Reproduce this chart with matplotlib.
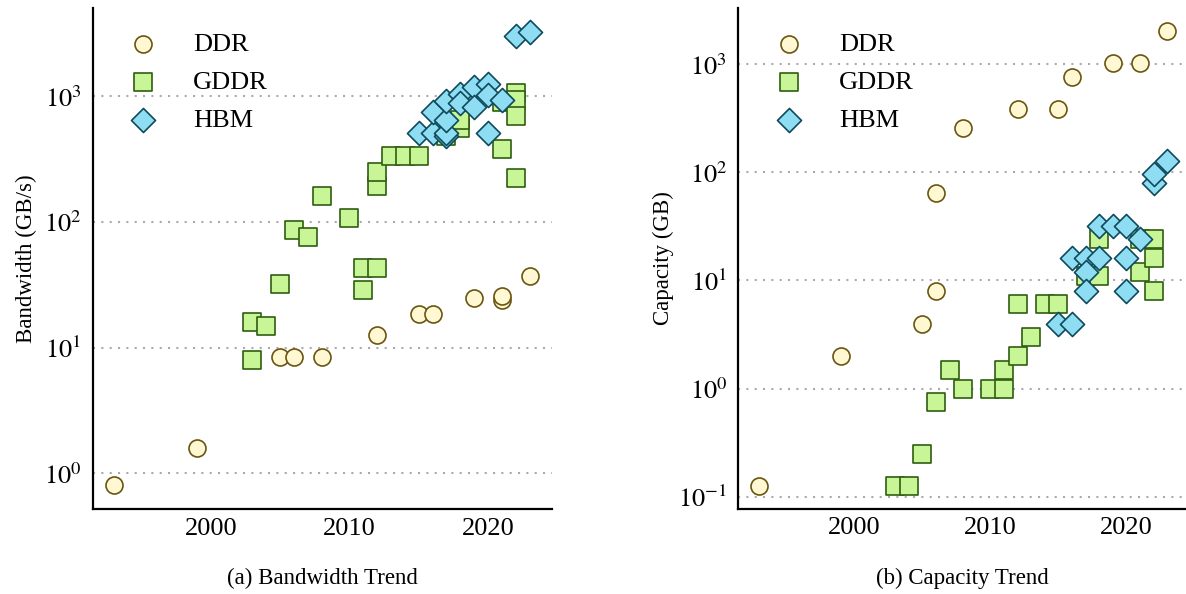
import math
import matplotlib
matplotlib.use("Agg")
import matplotlib.pyplot as plt
from matplotlib.ticker import FixedLocator

plt.rcParams['font.family'] = ['Liberation Serif', 'DejaVu Serif']
plt.rcParams['mathtext.fontset'] = 'stix'

# ---------------- data: bandwidth (GB/s) ----------------
bw_ddr_year = [1993, 1999, 2005, 2006, 2008, 2012, 2015, 2016, 2019, 2021, 2021, 2023]
bw_ddr_val = [0.8, 1.6, 8.5, 8.5, 8.5, 12.5, 18.7, 18.7, 25.0, 24.0, 25.6, 37.5]

bw_gddr_year = [2003, 2003, 2004, 2005, 2006, 2007, 2008, 2010, 2011, 2011, 2012, 2012, 2012,
                2013, 2014, 2015, 2017, 2018, 2018, 2021, 2021, 2022, 2022, 2022, 2022]
bw_gddr_val = [16, 8, 15, 32, 86, 76, 160, 108, 43, 29, 43, 192, 250,
               336, 336, 336, 480, 560, 650, 384, 900, 1070, 930, 704, 224]

bw_hbm_year = [2015, 2016, 2016, 2017, 2017, 2017, 2017, 2018, 2018, 2019, 2019,
               2020, 2020, 2020, 2021, 2022, 2023]
bw_hbm_val = [512, 512, 750, 480, 512, 650, 920, 1050, 880, 1180, 820,
              1260, 1020, 512, 940, 3050, 3250]

# ---------------- data: capacity (GB) ----------------
cap_ddr_year = [1993, 1999, 2005, 2006, 2006, 2008, 2012, 2015, 2016, 2019, 2021, 2023]
cap_ddr_val = [0.125, 2, 4, 8, 64, 256, 384, 384, 768, 1024, 1024, 2048]

cap_gddr_year = [2003, 2004, 2005, 2006, 2007, 2008, 2010, 2011, 2011, 2012, 2012, 2013,
                 2014, 2015, 2017, 2018, 2018, 2021, 2021, 2022, 2022, 2022]
cap_gddr_val = [0.125, 0.125, 0.25, 0.75, 1.5, 1, 1, 1, 1.5, 2, 6, 3,
                6, 6, 11, 11, 24, 12, 24, 24, 16, 8]

cap_hbm_year = [2015, 2016, 2016, 2017, 2017, 2017, 2018, 2018, 2019, 2020, 2020, 2020,
                2021, 2022, 2022, 2023]
cap_hbm_val = [4, 4, 16, 16, 12, 8, 16, 32, 32, 32, 16, 8,
               24, 80, 96, 128]

series_names = ["DDR", "GDDR", "HBM"]
x_ticks = [2000, 2010, 2020]

# ---------------- styles ----------------
styles = {
    "DDR": dict(marker="o", facecolor="#FFF8D2", edgecolor="#6A5510"),
    "GDDR": dict(marker="s", facecolor="#C8F595", edgecolor="#2F5D12"),
    "HBM": dict(marker="D", facecolor="#8EDDF3", edgecolor="#0E4A5C"),
}
S = 150
LW = 1.2
FS_TICK = 19
FS_LEG = 19
FS_LABEL = 16.5

W, H = 1186, 594
fig = plt.figure(figsize=(W / 100, H / 100), dpi=100)


def make_axes(x0, x1, y0, y1):
    return fig.add_axes([x0 / W, 1 - y1 / H, (x1 - x0) / W, (y1 - y0) / H])


def style_axes(ax, ylim, yticks, ylabel):
    ax.set_yscale("log")
    ax.set_xlim(1991.47, 2024.6)
    ax.set_ylim(*ylim)
    ax.xaxis.set_major_locator(FixedLocator(x_ticks))
    ax.yaxis.set_major_locator(FixedLocator(yticks))
    ax.yaxis.set_minor_locator(FixedLocator([]))
    ax.set_yticklabels([r"$10^{%d}$" % round(math.log10(t)) for t in yticks])
    ax.tick_params(axis="both", which="both", length=0, labelsize=FS_TICK)
    ax.tick_params(axis="y", pad=8)
    ax.tick_params(axis="x", pad=6)
    for s in ["top", "right"]:
        ax.spines[s].set_visible(False)
    for s in ["left", "bottom"]:
        ax.spines[s].set_linewidth(1.6)
    ax.grid(axis="y", which="major", linestyle=(0, (1, 3)), color="#AAAAAA", linewidth=1.5)
    ax.grid(axis="x", visible=False)
    ax.set_axisbelow(True)
    ax.set_ylabel(ylabel, fontsize=FS_LABEL)


def draw(ax, data, width_px, height_px):
    for name, (xs, ys) in zip(series_names, data):
        st = styles[name]
        ax.scatter(xs, ys, s=S, marker=st["marker"], facecolor=st["facecolor"],
                   edgecolor=st["edgecolor"], linewidth=LW, label=name, zorder=3)
    ax.legend(loc="upper left", frameon=False, fontsize=FS_LEG, handletextpad=0.9,
              labelspacing=0.55, borderaxespad=0.0, borderpad=0.4,
              bbox_to_anchor=(13.5 / width_px, 1.0 - 14 / height_px), scatterpoints=1)


# left: bandwidth
ax1 = make_axes(92.7, 551.7, 8, 509.3)
draw(ax1, [(bw_ddr_year, bw_ddr_val), (bw_gddr_year, bw_gddr_val), (bw_hbm_year, bw_hbm_val)], 459, 501.3)
style_axes(ax1, (0.517, 5050), [1, 10, 100, 1000], "Bandwidth (GB/s)")
ax1.yaxis.set_label_coords(-0.122, 0.5)

# right: capacity
ax2 = make_axes(738.3, 1189, 8, 509)
draw(ax2, [(cap_ddr_year, cap_ddr_val), (cap_gddr_year, cap_gddr_val), (cap_hbm_year, cap_hbm_val)], 450.7, 501)
style_axes(ax2, (0.0769, 3318), [0.1, 1, 10, 100, 1000], "Capacity (GB)")
ax2.yaxis.set_label_coords(-0.143, 0.5)

fig.text((92.7 + 551.7) / 2 / W, 1 - 578 / H, "(a) Bandwidth Trend", ha="center", va="center", fontsize=FS_LABEL)
fig.text((738.3 + 1186) / 2 / W, 1 - 578 / H, "(b) Capacity Trend", ha="center", va="center", fontsize=FS_LABEL)

fig.savefig("out.png", dpi=100)
